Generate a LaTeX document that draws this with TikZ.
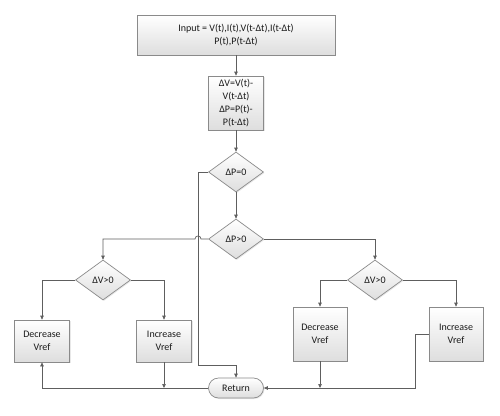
\documentclass[tikz,border=0pt]{standalone}
\usepackage{fontspec}
\setmainfont{Carlito}
\usetikzlibrary{shapes.geometric,arrows.meta,shadows}
\definecolor{linec}{HTML}{5E5E5E}
\definecolor{boxc}{HTML}{8A8A8A}
\definecolor{txtc}{HTML}{1A1A1A}
\begin{document}
\begin{tikzpicture}[x=1pt,y=-1pt,
  base/.style={draw=boxc, line width=0.7pt, top color=white, bottom color=black!13,
    text=txtc, font=\fontsize{10}{13.3}\selectfont, align=center, inner sep=1pt,
    drop shadow={opacity=0.18, shadow xshift=1pt, shadow yshift=-1pt}},
  procbox/.style={base, rectangle},
  decbox/.style={base, diamond, aspect=1.38, minimum width=55pt, minimum height=40pt, inner sep=0pt},
  termbox/.style={base, rectangle, rounded corners=10pt, minimum width=55pt, minimum height=20pt},
  conn/.style={draw=linec, line width=0.7pt},
  arr/.style={conn, -{Triangle[length=4pt,width=3.5pt]}}]
\useasboundingbox[fill=white] (0,0) rectangle (500,415);

\node[procbox, minimum width=198pt, minimum height=40pt] (in) at (236,35)
  {Input = V(t),I(t),V(t-Δt),I(t-Δt)\\P(t),P(t-Δt)};
\node[procbox, minimum width=55pt, minimum height=54pt] (diff) at (236,103)
  {ΔV=V(t)-\\V(t-Δt)\\ΔP=P(t)-\\P(t-Δt)};
\node[decbox] (d1) at (236,172) {ΔP=0};
\node[decbox] (d2) at (236,239) {ΔP>0};
\node[decbox] (dL) at (103,280) {ΔV>0};
\node[decbox] (dR) at (375,280) {ΔV>0};
\node[procbox, minimum width=55pt, minimum height=42pt] (decL) at (42,341) {Decrease\\Vref};
\node[procbox, minimum width=55pt, minimum height=42pt] (incL) at (164,341) {Increase\\Vref};
\node[procbox, minimum width=54pt, minimum height=54pt] (decR) at (320,334) {Decrease\\Vref};
\node[procbox, minimum width=54pt, minimum height=54pt] (incR) at (456,334) {Increase\\Vref};
\node[termbox] (ret) at (236,388) {Return};

\coordinate (j1) at (198,365);
\coordinate (cL) at (incL.south |- ret.west);
\coordinate (cR) at (decR.south |- ret.east);

\draw[arr] (in.south) -- (diff.north);
\draw[arr] (diff.south) -- (d1.north);
\draw[arr] (d1.south) -- (d2.north);
\draw[arr] (d1.west) -| (j1) -| (ret.north);
\draw[arr] (d2.west) -- (201,239) .. controls (201,235) and (195,235) .. (195,239) -| (dL.north);
\draw[arr] (d2.east) -| (dR.north);
\draw[arr] (dL.west) -| (decL.north);
\draw[arr] (dL.east) -| (incL.north);
\draw[arr] (dR.west) -| (decR.north);
\draw[arr] (dR.east) -| (incR.north);
\draw[arr] (incL.south) -- (cL);
\draw[arr] (ret.west) -| (decL.south);
\draw[arr] (decR.south) -- (cR);
\draw[arr] (incR.west) -- ++(-13,0) |- (ret.east);
\end{tikzpicture}
\end{document}
